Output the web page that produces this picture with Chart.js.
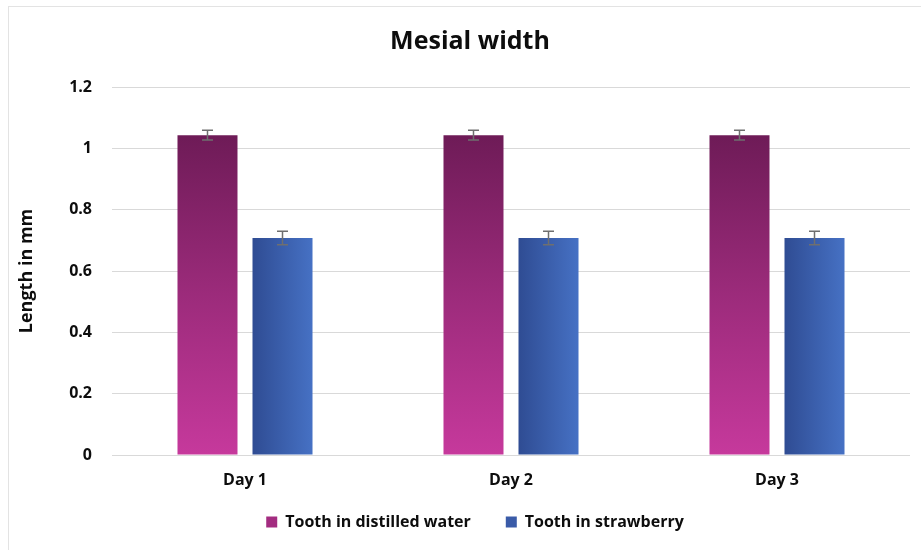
<!DOCTYPE html>
<html>
<head>
<meta charset="utf-8">
<script src="https://cdn.jsdelivr.net/npm/chart.js@4/dist/chart.umd.min.js"></script>
<style>
html,body{margin:0;padding:0;background:#fff;overflow:hidden;}
#wrap{position:relative;width:921px;height:550px;}
#frame{position:absolute;left:8px;top:6px;width:940px;height:570px;border:1px solid #e3e3e3;box-sizing:border-box;}
canvas{position:absolute;left:0;top:0;}
</style>
</head>
<body>
<div id="wrap"><div id="frame"></div><canvas id="c" width="921" height="550"></canvas></div>
<script>
const categories = ['Day 1', 'Day 2', 'Day 3'];
const seriesNames = ['Tooth in distilled water', 'Tooth in strawberry'];
const distilled = [1.043, 1.043, 1.043];
const strawberry = [0.708, 0.708, 0.708];
const distilledErr = [0.016, 0.016, 0.016];
const strawberryErr = [0.022, 0.022, 0.022];
const yTicks = [0, 0.2, 0.4, 0.6, 0.8, 1, 1.2];
const yTickLabels = ['0', '0.2', '0.4', '0.6', '0.8', '1', '1.2'];

const CP = 0.564, BP = 0.8;
const FONT = '"Open Sans", "Noto Sans", sans-serif';

function distilledFill(ctx) {
  const chart = ctx.chart, ca = chart.chartArea;
  if (!ca || ctx.type !== 'data') return '#a02a7c';
  const y = chart.scales.y;
  const g = chart.ctx.createLinearGradient(0, y.getPixelForValue(ctx.raw), 0, y.getPixelForValue(0));
  g.addColorStop(0, '#6e1b57');
  g.addColorStop(0.5, '#9c2b7b');
  g.addColorStop(1, '#c6399c');
  return g;
}
function strawberryFill(ctx) {
  const chart = ctx.chart, ca = chart.chartArea;
  if (!ca || ctx.type !== 'data') return '#3a5ba8';
  const x = chart.scales.x;
  const cw = (ca.right - ca.left) / categories.length;
  const slot = cw * CP / 2;
  const center = x.getPixelForValue(ctx.dataIndex) + slot / 2;
  const half = slot * BP / 2;
  const g = chart.ctx.createLinearGradient(center - half, 0, center + half, 0);
  g.addColorStop(0, '#2f4c93');
  g.addColorStop(1, '#4671c4');
  return g;
}

const errorBars = {
  id: 'errorBars',
  afterDatasetsDraw(chart) {
    const c = chart.ctx, y = chart.scales.y;
    const errs = [distilledErr, strawberryErr];
    c.save();
    c.strokeStyle = '#6f6f6f';
    c.lineWidth = 1.5;
    chart.data.datasets.forEach((ds, di) => {
      const meta = chart.getDatasetMeta(di);
      meta.data.forEach((bar, i) => {
        const v = ds.data[i], e = errs[di][i];
        const yt = y.getPixelForValue(v + e), yb = y.getPixelForValue(v - e);
        const x = bar.x, w = 5.5;
        c.beginPath();
        c.moveTo(x, yt); c.lineTo(x, yb);
        c.moveTo(x - w, yt); c.lineTo(x + w, yt);
        c.moveTo(x - w, yb); c.lineTo(x + w, yb);
        c.stroke();
      });
    });
    c.restore();
  }
};

// nudge the legend block up/right after layout (chart area is unaffected)
const legendShift = {
  id: 'legendShift',
  afterLayout(chart) {
    const l = chart.legend;
    if (!l) return;
    l.top -= 26;
    l.left += 5; l.right += 5;
  }
};

new Chart(document.getElementById('c'), {
  type: 'bar',
  data: {
    labels: categories,
    datasets: [
      { label: seriesNames[0], data: distilled, backgroundColor: distilledFill, categoryPercentage: CP, barPercentage: BP },
      { label: seriesNames[1], data: strawberry, backgroundColor: strawberryFill, categoryPercentage: CP, barPercentage: BP }
    ]
  },
  options: {
    responsive: false,
    animation: false,
    devicePixelRatio: 1,
    layout: { padding: { left: 30, right: 11, top: 0, bottom: 0 } },
    plugins: {
      title: {
        display: true, text: 'Mesial width', color: '#0d0d0d',
        font: { family: FONT, size: 25, weight: 'bold', lineHeight: 1.2 },
        padding: { top: 27, bottom: 30 }
      },
      legend: {
        position: 'bottom',
        maxHeight: 45,
        labels: {
          color: '#0d0d0d', boxWidth: 11, boxHeight: 11, padding: 35,
          font: { family: FONT, size: 16, weight: 'bold' },
          generateLabels(chart) {
            const cols = ['#a32c80', '#3a5ba8'];
            return chart.data.datasets.map((ds, i) => ({
              text: ds.label, fillStyle: cols[i], strokeStyle: cols[i], lineWidth: 0,
              fontColor: '#0d0d0d', datasetIndex: i, hidden: false
            }));
          }
        }
      },
      tooltip: { enabled: false }
    },
    scales: {
      x: {
        grid: { display: false, drawTicks: false },
        border: { display: false },
        ticks: { color: '#0d0d0d', padding: 15.4, font: { family: FONT, size: 16, weight: 'bold', lineHeight: 1.2 } }
      },
      y: {
        min: 0, max: 1.2,
        afterBuildTicks(s) { s.ticks = yTicks.map(v => ({ value: v })); },
        grid: { color: '#d9d9d9', lineWidth: 1, drawTicks: false },
        border: { display: false },
        ticks: {
          color: '#0d0d0d', padding: 20,
          font: { family: FONT, size: 16, weight: 'bold' },
          callback(v) { const i = yTicks.findIndex(t => Math.abs(t - v) < 1e-9); return i >= 0 ? yTickLabels[i] : ''; }
        },
        title: {
          display: true, text: 'Length in mm', color: '#0d0d0d',
          font: { family: FONT, size: 18, weight: 'bold', lineHeight: 1.2 },
          padding: { top: -13.8, bottom: 0 }
        },
        afterFit(s) { s.width = 82; }
      }
    }
  },
  plugins: [errorBars, legendShift]
});
</script>
</body>
</html>
